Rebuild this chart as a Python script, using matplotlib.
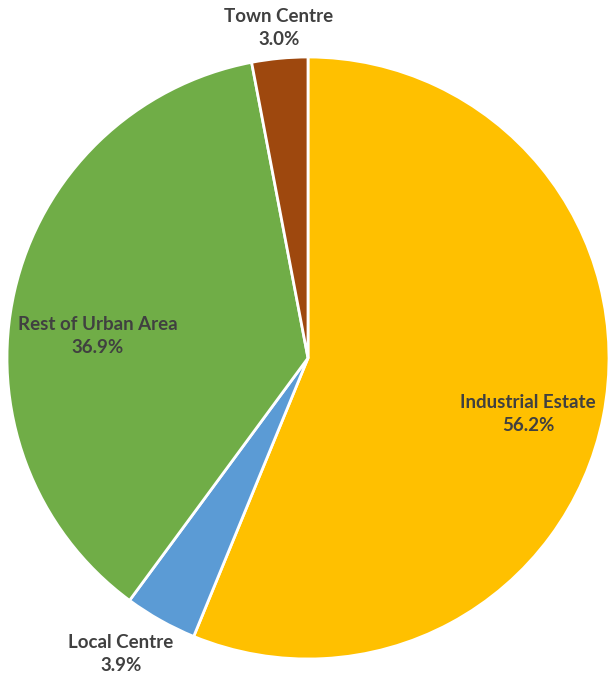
import matplotlib
matplotlib.use("Agg")
import matplotlib.pyplot as plt
import numpy as np

categories = ["Industrial Estate", "Local Centre", "Rest of Urban Area", "Town Centre"]
shares = [56.2, 3.9, 36.9, 3.0]
colors = ["#FFC000", "#5B9BD5", "#70AD47", "#9E480E"]

W, H = 609, 680
fig = plt.figure(figsize=(W / 100, H / 100), dpi=100)
ax = fig.add_axes([0, 0, 1, 1])
cx, cy, R = 308, 680 - 358, 301
ax.pie(shares, colors=colors, startangle=90, counterclock=False,
       center=(cx, cy), radius=R, frame=True,
       wedgeprops=dict(edgecolor="white", linewidth=2))
ax.set_xlim(0, W)
ax.set_ylim(0, H)
ax.set_aspect("equal")
ax.axis("off")

# label offsets (pixels from pie centre)
label_offsets = [(220, -56), (-187, -296), (-210, 22), (-29, 330)]
for name, val, (dx, dy) in zip(categories, shares, label_offsets):
    ax.text(cx + dx, cy + dy, f"{name}\n{val:.1f}%", ha="center", va="center",
            fontsize=13.5, fontweight="bold", color="#404040",
            family=["Lato", "DejaVu Sans"], linespacing=1.45)

fig.savefig("out.png", dpi=100)
